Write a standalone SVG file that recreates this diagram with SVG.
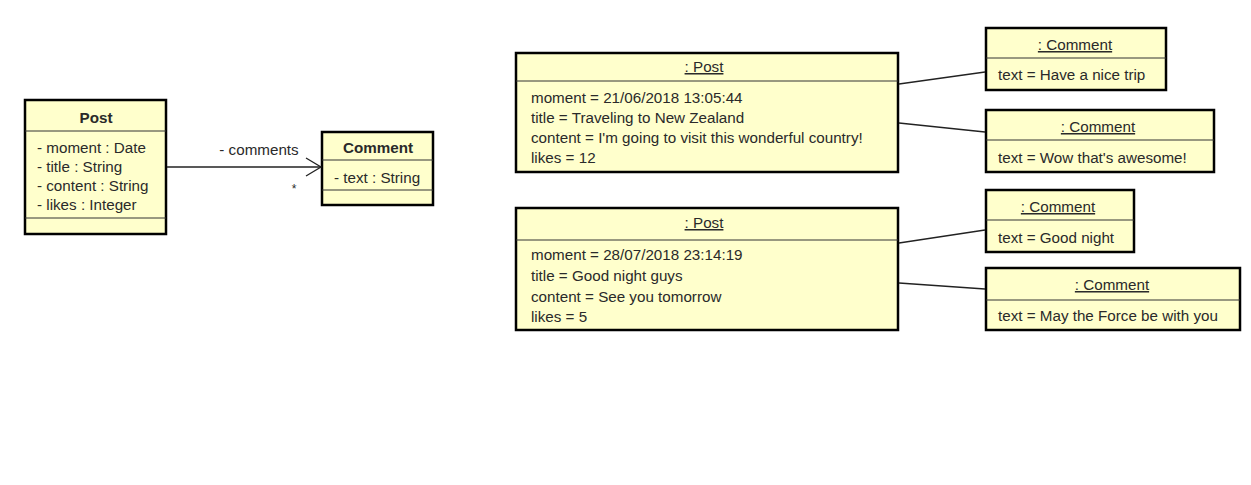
<svg xmlns="http://www.w3.org/2000/svg" width="1251" height="485" viewBox="0 0 1251 485">
<style>
.box{fill:#FFFFCC;stroke:#000;stroke-width:2.5}
.div{stroke:#333;stroke-width:1}
.t{font-family:"Liberation Sans",Arial,sans-serif;font-size:15.2px;fill:#2a2a2a}
.b{font-weight:bold}
.u{text-decoration:underline}
.c{text-anchor:middle}
.ln{stroke:#222;stroke-width:1.3;fill:none}
</style>
<rect width="1251" height="485" fill="#fff"/>
<g id="class-Post">
<rect class="box" x="25" y="100" width="141" height="134"/>
<line class="div" x1="25" y1="131" x2="166" y2="131"/>
<line class="div" x1="25" y1="218" x2="166" y2="218"/>
<text class="t b c" x="96" y="123">Post</text>
<text class="t" x="37" y="153">- moment : Date</text>
<text class="t" x="37" y="172">- title : String</text>
<text class="t" x="37" y="191">- content : String</text>
<text class="t" x="37" y="210">- likes : Integer</text>
</g>
<g id="class-Comment">
<rect class="box" x="322" y="132" width="111" height="73"/>
<line class="div" x1="322" y1="160" x2="433" y2="160"/>
<line class="div" x1="322" y1="190" x2="433" y2="190"/>
<text class="t b c" x="378" y="153">Comment</text>
<text class="t" x="334" y="183">- text : String</text>
</g>
<g id="obj-post1">
<rect class="box" x="516" y="53" width="382" height="119"/>
<line class="div" x1="516" y1="81" x2="898" y2="81"/>
<text class="t c u" x="704" y="72">: Post</text>
<text class="t" x="531" y="103">moment = 21/06/2018 13:05:44</text>
<text class="t" x="531" y="123">title = Traveling to New Zealand</text>
<text class="t" x="531" y="143">content = I'm going to visit this wonderful country!</text>
<text class="t" x="531" y="163">likes = 12</text>
</g>
<g id="obj-comment1">
<rect class="box" x="986" y="28" width="180" height="62"/>
<line class="div" x1="986" y1="58" x2="1166" y2="58"/>
<text class="t c u" x="1075" y="50">: Comment</text>
<text class="t" x="998" y="80">text = Have a nice trip</text>
</g>
<g id="obj-comment2">
<rect class="box" x="986" y="110" width="228" height="62"/>
<line class="div" x1="986" y1="140" x2="1214" y2="140"/>
<text class="t c u" x="1098" y="132">: Comment</text>
<text class="t" x="998" y="163">text = Wow that's awesome!</text>
</g>
<g id="obj-post2">
<rect class="box" x="516" y="208" width="382" height="122"/>
<line class="div" x1="516" y1="240" x2="898" y2="240"/>
<text class="t c u" x="704" y="228">: Post</text>
<text class="t" x="531" y="260">moment = 28/07/2018 23:14:19</text>
<text class="t" x="531" y="281">title = Good night guys</text>
<text class="t" x="531" y="302">content = See you tomorrow</text>
<text class="t" x="531" y="322">likes = 5</text>
</g>
<g id="obj-comment3">
<rect class="box" x="986" y="190" width="148" height="62"/>
<line class="div" x1="986" y1="220" x2="1134" y2="220"/>
<text class="t c u" x="1058" y="212">: Comment</text>
<text class="t" x="998" y="243">text = Good night</text>
</g>
<g id="obj-comment4">
<rect class="box" x="986" y="268" width="254" height="62"/>
<line class="div" x1="986" y1="300" x2="1240" y2="300"/>
<text class="t c u" x="1112" y="290">: Comment</text>
<text class="t" x="998" y="321">text = May the Force be with you</text>
</g>
<g id="connectors">
<line class="ln" x1="167" y1="167" x2="321" y2="167"/>
<polyline class="ln" points="306,158 321,167 306,176"/>
<text class="t c" x="259" y="155">- comments</text>
<text class="t c" x="294" y="193" style="font-size:12px">*</text>
<line class="ln" x1="899" y1="84" x2="985" y2="72"/>
<line class="ln" x1="899" y1="123" x2="985" y2="132"/>
<line class="ln" x1="899" y1="243" x2="985" y2="230"/>
<line class="ln" x1="899" y1="283" x2="985" y2="289"/>
</g>
</svg>
